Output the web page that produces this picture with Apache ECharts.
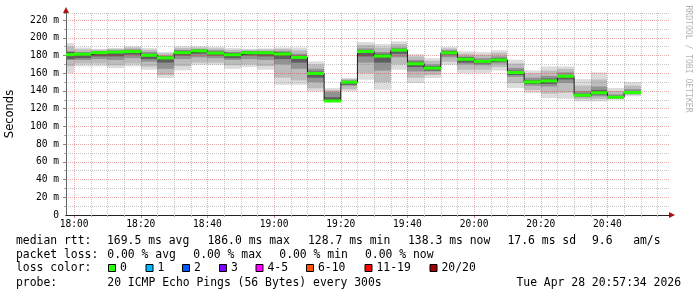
<!DOCTYPE html>
<html><head><meta charset="utf-8">
<script src="https://cdn.jsdelivr.net/npm/echarts@6/dist/echarts.min.js"></script>
<style>html,body{margin:0;padding:0;background:#fff}#c{width:697px;height:297px}</style>
</head><body><div id="c"></div>
<script>
// ---- axis extents / tick labels ----
const graphStart = "17:57:34";
const graphEnd = "20:58:28";
const binStepMin = 5;
const xTickLabels = ["18:00","18:20","18:40","19:00","19:20","19:40","20:00","20:20","20:40"];
const yTickLabels = [0,20,40,60,80,100,120,140,160,180,200,220];
const yMax = 228;

// ---- data: 5-minute bins (end time), values in ms ----
const binEnd = ["18:00","18:05","18:10","18:15","18:20","18:25","18:30","18:35","18:40","18:45",
  "18:50","18:55","19:00","19:05","19:10","19:15","19:20","19:25","19:30","19:35",
  "19:40","19:45","19:50","19:55","20:00","20:05","20:10","20:15","20:20","20:25",
  "20:30","20:35","20:40","20:45","20:50"];
const medianMs = [181.0,181.5,183.3,183.9,184.5,180.3,177.3,183.3,185.2,182.8,
  180.9,183.1,183.1,181.8,177.9,159.8,128.7,149.9,184.5,179.4,
  186.0,170.7,165.8,183.1,175.8,173.4,175.0,160.8,150.2,151.4,
  156.6,135.2,138.0,132.9,138.3];
const minMs = [160,167.7,167.8,165.8,167.7,164,154.6,163.2,169.6,169.6,
  165,167,164,147,147,139.5,127.8,140,152.7,141.4,
  164,149,154.6,169.6,160.2,160.2,163,143.3,137.6,132,
  131.2,128.3,128.3,130,134];
const q10Ms = [168,171,171,169,171,167.5,158,168,172,172,
  169,170,168,155,152,143,128,142,160,150,
  170,155,158,173,164,164,167,149,141,137,
  138,131,131,131,135.5];
const q25Ms = [175,175,176,175,177,173,165,176,178,177,
  175,176,175,170,165,150,128.3,146,172,163,
  178,162,162,178,170,169,171,156,146,145,
  149,133,134,132,137];
const coreLoMs = [176,177,179,179,181,176,172,180,182,180,
  177,180,179,176,172,155,128.5,147,179,172,
  182,167,163,181,172,171,173,158,148,148,
  153,134,136,132,137.5];
const coreHiMs = [184,183,184.5,185,186,182,179,185.5,186.5,184.5,
  183,184.5,184.5,183.5,180,162,133,151,186,182,
  187.5,173,168,185,178,175,177,163,152,154,
  158,137,141,134.5,140];
const q75Ms = [185,184,185,186,187,184,180,186,187,186,
  184,185,185,185,182,165,139,152,188,184,
  189,175,170,186,179,177,179,166,155,157,
  161,140,145,136,142];
const q90Ms = [190,187,186.5,187.5,189,186.5,182.5,188.5,189,188,
  186.5,186.5,187,187.5,186,170,141,153.5,192,189,
  193,179,174,188,182,181,183,171,160,163,
  165,146,153,140,146];
const maxMs = [194,189,187.6,188.4,190.3,188.4,183.9,190.3,190.3,189.5,
  188.4,187.6,188,189,189,173.4,143.3,154.6,195.2,193,
  196,181.6,177,189.5,184.7,183.9,185.8,175.2,163.2,167.7,
  167.7,153.4,161,143.3,150];

const lossLegend = [["0","#26ff00"],["1","#00b8ff"],["2","#0059ff"],["3","#7e00ff"],
  ["4-5","#ff00ff"],["6-10","#ff5500"],["11-19","#ff0000"],["20/20","#a00000"]];

// ---- helpers ----
const toMin = s => { const p = s.split(':').map(Number); return p[0]*60 + p[1] + (p[2]||0)/60 - 18*60; };
const fmt = v => { const t = Math.round(v + 18*60); return String(Math.floor(t/60)).padStart(2,'0') + ':' + String(t%60).padStart(2,'0'); };
const xMin = toMin(graphStart), xMax = toMin(graphEnd);
const xMajor = xTickLabels.map(toMin);
const xMinor = []; for (let v = 0; v < xMax; v += binStepMin) if (xMajor.indexOf(v) < 0) xMinor.push(v);
const yMajor = yTickLabels.filter(v => v > 0);
const yMinor = []; for (let v = 10; v < 220; v += 20) yMinor.push(v); yMinor.push(yMax);

const rows = binEnd.map((e, i) => {
  const end = toMin(e), start = Math.max(end - binStepMin, xMin);
  return [start, end, minMs[i], q10Ms[i], q25Ms[i], coreLoMs[i], medianMs[i], coreHiMs[i], q75Ms[i], q90Ms[i], maxMs[i]];
});
const lineData = [[xMin, medianMs[0]]].concat(binEnd.map((e, i) => [toMin(e), medianMs[i]]));

const bandDefs = [[2,10,'#dcdcdc'],[3,9,'#bcbcbc'],[4,8,'#929292'],[5,7,'#5e5e5e']];
function smokeItem(params, api) {
  const s = api.value(0), e = api.value(1);
  return { type: 'group', children: bandDefs.map(([lo, hi, c]) => {
    const a = api.coord([s, api.value(hi)]), b = api.coord([e, api.value(lo)]);
    const x0 = Math.round(a[0]), x1 = Math.round(b[0]);
    return { type: 'rect', shape: { x: x0, y: a[1], width: x1 - x0, height: b[1] - a[1] }, style: { fill: c } };
  }) };
}
function medItem(params, api) {
  const a = api.coord([api.value(0), api.value(6)]), b = api.coord([api.value(1), api.value(6)]);
  const x0 = Math.round(a[0]), x1 = Math.round(b[0]);
  return { type: 'rect', shape: { x: x0, y: a[1] - 1.5, width: x1 - x0, height: 3 }, style: { fill: '#26ff00' } };
}

const MONO = 'DejaVu Sans Mono';
const minorGrid = 'rgba(120,120,120,0.42)';
const majorGrid = 'rgba(200,40,40,0.38)';
const arrowColor = '#b01010';
const txtFont = { fontFamily: MONO, fontSize: 11.4, fill: '#000', verticalAlign: 'middle' };

const graphics = [];
function txt(x, y, t, extra) { graphics.push({ type: 'text', x: x, y: y, silent: true, style: Object.assign({ text: t }, txtFont, extra || {}) }); }
txt(16, 241, 'median rtt:'); txt(107, 241, '169.5 ms avg'); txt(207.5, 241, '186.0 ms max');
txt(308, 241, '128.7 ms min'); txt(408, 241, '138.3 ms now'); txt(507.5, 241, '17.6 ms sd'); txt(592, 241, '9.6   am/s');
txt(16, 255, 'packet loss:'); txt(107.3, 255, '0.00 % avg'); txt(193.3, 255, '0.00 % max'); txt(279.3, 255, '0.00 % min'); txt(365, 255, '0.00 % now');
txt(16, 268.5, 'loss color:');
const boxX = [108.5, 146, 182.5, 219.5, 256, 306.5, 365, 430];
lossLegend.forEach(([lab, col], i) => {
  graphics.push({ type: 'rect', silent: true, shape: { x: boxX[i], y: 264.5, width: 7, height: 7 }, style: { fill: col, stroke: '#000', lineWidth: 1 } });
  txt(boxX[i] + 11.5, 268.5, lab);
});
txt(16, 283.5, 'probe:'); txt(107.3, 283.5, '20 ICMP Echo Pings (56 Bytes) every 300s');
txt(681, 283.5, 'Tue Apr 28 20:57:34 2026', { align: 'right' });
graphics.push({ type: 'text', x: 10.5, y: 114, rotation: Math.PI / 2, silent: true,
  style: { text: 'Seconds', fontFamily: 'DejaVu Sans', fontSize: 11.5, fill: '#000', align: 'center', verticalAlign: 'middle' } });
graphics.push({ type: 'text', x: 688.5, y: 59, rotation: -Math.PI / 2, silent: true,
  style: { text: 'RRDTOOL / TOBI OETIKER', fontFamily: MONO, fontSize: 8.1, fill: '#b4b4b4', align: 'center', verticalAlign: 'middle' } });

const chart = echarts.init(document.getElementById('c'), null, { renderer: 'canvas' });
chart.setOption({
  animation: false,
  backgroundColor: '#fff',
  grid: { left: 66, top: 13, width: 603, height: 202, containLabel: false, outerBoundsMode: 'none' },
  xAxis: [
    { type: 'value', min: xMin, max: xMax, position: 'bottom', z: 3,
      axisLine: { show: true, onZero: false, lineStyle: { color: '#222', width: 1 } },
      axisTick: { show: true, customValues: xMinor, length: 2, lineStyle: { color: '#aaa' } },
      axisLabel: { customValues: xMajor, formatter: fmt, margin: 4, color: '#000', fontFamily: MONO, fontSize: 9.6 },
      splitLine: { show: true, lineStyle: { type: 'dotted', color: minorGrid, width: 1 } } },
    { type: 'value', min: xMin, max: xMax, position: 'bottom', z: 2,
      axisLine: { show: true, onZero: false, symbol: ['none', 'triangle'], symbolSize: [6, 6], symbolOffset: [0, 3], lineStyle: { color: arrowColor, width: 1 } },
      axisTick: { show: true, customValues: xMajor, length: 3, lineStyle: { color: 'rgba(200,40,40,0.6)' } },
      axisLabel: { show: false },
      splitLine: { show: true, lineStyle: { type: 'dotted', color: majorGrid, width: 1 } } }
  ],
  yAxis: [
    { type: 'value', min: 0, max: yMax, position: 'left', z: 3,
      axisLine: { show: true, onZero: false, lineStyle: { color: '#666', width: 1 } },
      axisTick: { show: true, customValues: yMinor, length: 2, lineStyle: { color: '#aaa' } },
      axisLabel: { customValues: yTickLabels, formatter: v => v === 0 ? '0' : v + ' m', margin: 7, color: '#000', fontFamily: MONO, fontSize: 9.6 },
      splitLine: { show: true, lineStyle: { type: 'dotted', color: minorGrid, width: 1 } } },
    { type: 'value', min: 0, max: yMax, position: 'left', z: 2,
      axisLine: { show: true, onZero: false, symbol: ['none', 'triangle'], symbolSize: [6, 6], symbolOffset: [0, 3], lineStyle: { color: arrowColor, width: 1 } },
      axisTick: { show: true, customValues: yMajor, length: 3, lineStyle: { color: '#888' } },
      axisLabel: { show: false },
      splitLine: { show: true, lineStyle: { type: 'dotted', color: majorGrid, width: 1 } } }
  ],
  series: [
    { type: 'custom', name: 'smoke', z: 1, renderItem: smokeItem, data: rows, encode: { x: [0, 1], y: [2, 10] }, silent: true },
    { type: 'line', name: 'median-line', z: 4, data: lineData, step: 'start', symbol: 'none', lineStyle: { color: '#202020', width: 1 }, silent: true },
    { type: 'custom', name: 'median', z: 5, renderItem: medItem, data: rows, encode: { x: [0, 1], y: 6 }, silent: true }
  ],
  graphic: graphics
});
</script></body></html>
